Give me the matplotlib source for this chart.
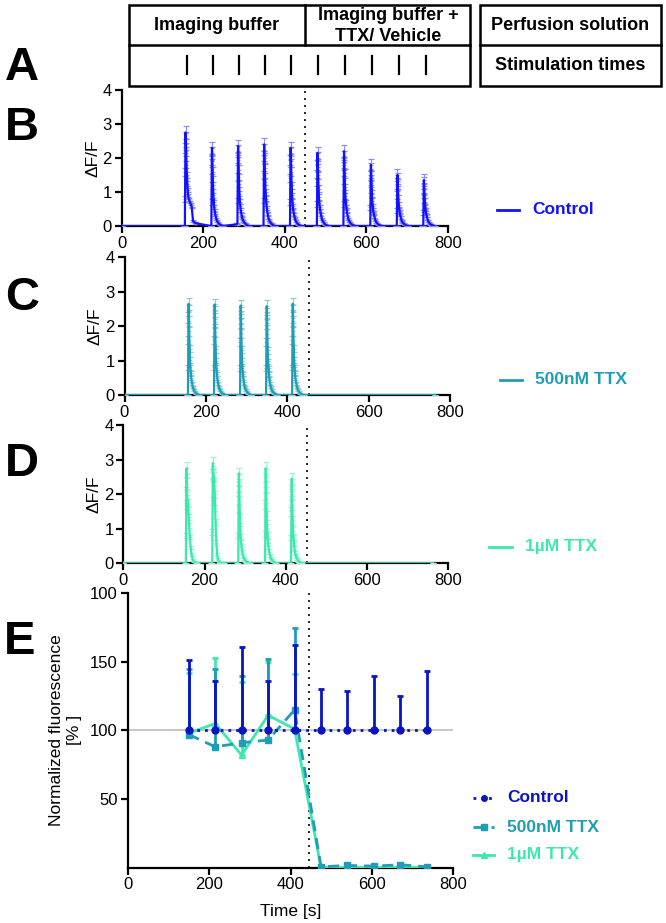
import matplotlib
matplotlib.use('Agg')
import matplotlib.pyplot as plt
from matplotlib.lines import Line2D
from matplotlib.patches import Rectangle
from matplotlib.transforms import blended_transform_factory
from matplotlib import font_manager

plt.rcParams['font.family'] = ['Liberation Sans', 'DejaVu Sans']
_names = {f.name for f in font_manager.fontManager.ttflist}
narrow = 'Liberation Sans Narrow' in _names

# ---------------- data ----------------
stim_times = [160, 224, 288, 352, 416, 482, 548, 614, 680, 746]
switch_time = 450
trace_end = 762

# sample offsets (s) relative to each stimulus onset
offsets = [-2, 0, 0.4, 0.8, 1.2, 1.6, 2.0, 2.5, 3, 4, 5, 6, 7, 8, 10, 12, 14, 17, 20, 24, 28]

ctrl_onsets = [155, 220, 284, 348, 413, 479, 544, 610, 675, 740]
ctrl_peaks = [
    [0, 0, 0.8, 1.6, 2.3, 2.75, 2.6, 2.4, 2.2, 1.8, 1.5, 1.25, 1.05, 0.9, 0.78, 0.72, 0.65, 0.55, 0.15, 0.1, 0.08],
    [0, 0, 0.7, 1.4, 1.95, 2.3, 2.15, 1.9, 1.6, 1.2, 0.9, 0.7, 0.55, 0.45, 0.32, 0.22, 0.15, 0.09, 0.05, 0.02, 0],
    [0.05, 0.08, 0.75, 1.45, 2.0, 2.35, 2.2, 1.95, 1.65, 1.25, 0.95, 0.72, 0.58, 0.47, 0.33, 0.23, 0.16, 0.1, 0.06, 0.02, 0],
    [0, 0, 0.75, 1.5, 2.05, 2.4, 2.25, 2.0, 1.7, 1.3, 1.0, 0.8, 0.65, 0.53, 0.37, 0.25, 0.17, 0.1, 0.06, 0.02, 0],
    [0, 0, 0.7, 1.4, 1.95, 2.3, 2.15, 1.9, 1.6, 1.2, 0.9, 0.72, 0.58, 0.46, 0.33, 0.23, 0.15, 0.09, 0.05, 0.02, 0],
    [0, 0, 0.65, 1.3, 1.8, 2.15, 2.0, 1.75, 1.5, 1.1, 0.85, 0.68, 0.56, 0.46, 0.33, 0.22, 0.15, 0.09, 0.05, 0.02, 0],
    [0, 0, 0.65, 1.35, 1.85, 2.2, 2.05, 1.8, 1.55, 1.15, 0.88, 0.7, 0.57, 0.47, 0.33, 0.22, 0.15, 0.09, 0.05, 0.02, 0],
    [0, 0, 0.55, 1.1, 1.5, 1.8, 1.68, 1.48, 1.27, 0.95, 0.74, 0.59, 0.48, 0.39, 0.28, 0.19, 0.13, 0.08, 0.04, 0.02, 0],
    [0, 0, 0.45, 0.9, 1.25, 1.5, 1.4, 1.23, 1.05, 0.8, 0.62, 0.5, 0.41, 0.33, 0.24, 0.16, 0.11, 0.07, 0.04, 0.01, 0],
    [0, 0, 0.4, 0.8, 1.12, 1.35, 1.26, 1.1, 0.95, 0.72, 0.57, 0.46, 0.38, 0.31, 0.22, 0.15, 0.1, 0.06, 0.03, 0.01, 0],
]
ctrl_sem = [0.01, 0.01, 0.08, 0.12, 0.15, 0.18, 0.17, 0.15, 0.13, 0.1, 0.08, 0.07, 0.06, 0.05, 0.04, 0.03, 0.03, 0.02, 0.02, 0.01, 0.01]

ttx500_onsets = [156, 220, 284, 348, 412]
ttx500_peaks = [
    [0, 0, 0.8, 1.6, 2.25, 2.65, 2.45, 2.15, 1.85, 1.35, 1.02, 0.8, 0.63, 0.5, 0.34, 0.23, 0.15, 0.09, 0.05, 0.02, 0],
    [0, 0, 0.8, 1.6, 2.22, 2.63, 2.43, 2.12, 1.82, 1.33, 1.0, 0.79, 0.62, 0.49, 0.34, 0.23, 0.15, 0.09, 0.05, 0.02, 0],
    [0, 0, 0.78, 1.55, 2.2, 2.6, 2.4, 2.1, 1.8, 1.32, 0.99, 0.78, 0.61, 0.49, 0.33, 0.22, 0.15, 0.09, 0.05, 0.02, 0],
    [0, 0, 0.78, 1.55, 2.18, 2.58, 2.38, 2.08, 1.78, 1.3, 0.98, 0.77, 0.6, 0.48, 0.33, 0.22, 0.14, 0.08, 0.05, 0.02, 0],
    [0, 0, 0.8, 1.6, 2.25, 2.65, 2.45, 2.15, 1.85, 1.35, 1.02, 0.8, 0.63, 0.5, 0.34, 0.23, 0.15, 0.09, 0.05, 0.02, 0],
]
ttx500_sem = [0.01, 0.01, 0.08, 0.12, 0.15, 0.17, 0.16, 0.15, 0.13, 0.1, 0.08, 0.07, 0.06, 0.05, 0.04, 0.03, 0.03, 0.02, 0.02, 0.01, 0.01]

ttx1_onsets = [154, 219, 283, 349, 413]
ttx1_peaks = [
    [0, 0, 0.8, 1.7, 2.35, 2.75, 2.3, 2.0, 1.9, 1.85, 1.75, 1.55, 1.35, 1.1, 0.75, 0.45, 0.25, 0.1, 0.05, 0.02, 0],
    [0, 0, 0.9, 1.8, 2.5, 2.9, 2.65, 2.6, 2.55, 2.5, 2.35, 2.0, 1.6, 1.2, 0.6, 0.25, 0.1, 0.05, 0.02, 0, 0],
    [0, 0, 0.8, 1.6, 2.2, 2.6, 2.4, 2.1, 1.8, 1.3, 0.97, 0.76, 0.6, 0.47, 0.32, 0.21, 0.14, 0.08, 0.04, 0.02, 0],
    [0, 0, 0.85, 1.7, 2.35, 2.75, 2.55, 2.2, 1.9, 1.38, 1.02, 0.8, 0.63, 0.5, 0.34, 0.23, 0.15, 0.09, 0.05, 0.02, 0],
    [0, 0, 0.75, 1.5, 2.1, 2.45, 2.27, 1.98, 1.7, 1.24, 0.94, 0.74, 0.58, 0.46, 0.31, 0.21, 0.14, 0.08, 0.04, 0.02, 0],
]
ttx1_sem = [0.01, 0.01, 0.08, 0.12, 0.15, 0.17, 0.17, 0.16, 0.15, 0.13, 0.11, 0.1, 0.09, 0.08, 0.06, 0.05, 0.04, 0.03, 0.02, 0.01, 0.01]

# panel E: normalized fluorescence per stimulation
e_times = [150, 215, 280, 345, 410, 475, 540, 605, 670, 735]
ctrl_norm = [100, 100, 100, 100, 100, 100, 100, 100, 100, 100]
ctrl_norm_sem = [51, 36, 61, 36, 62, 30, 29, 40, 25, 43]
ttx500_norm = [97, 88, 91, 93, 115, 0.5, 1.5, 1, 2, 0.5]
ttx500_norm_sem = [48, 57, 49, 59, 60, 1, 1.5, 1, 1.5, 0.5]
ttx1_norm = [98, 105, 82, 111, 101, 0, 0, 0, 0, 0]
ttx1_norm_sem = [44, 48, 53, 39, 40, 0.5, 0.5, 0.5, 0.5, 0.5]

trace_yticks = [0, 1, 2, 3, 4]
time_ticks = [0, 200, 400, 600, 800]
e_yticks = [50, 100, 150, 200]
e_yticklabels = ['50', '100', '150', '100']

c_ctrl = '#1212FF'
c_ctrl_light = '#8C8CFF'
c_500 = '#1E9DB6'
c_500_light = '#8ACBD8'
c_1 = '#3DE8AE'
c_1_light = '#9FF2D6'
c_ctrl_e = '#0A14C4'

# ---------------- figure ----------------
W, H = 666, 923
fig = plt.figure(figsize=(W / 100, H / 100), dpi=100)


def ax_px(l, t, r, b):
    return fig.add_axes([l / W, 1 - b / H, (r - l) / W, (b - t) / H])


def style_axis(ax):
    for s in ['top', 'right']:
        ax.spines[s].set_visible(False)
    for s in ['left', 'bottom']:
        ax.spines[s].set_linewidth(1.6)
    ax.tick_params(direction='out', length=5, width=1.6, labelsize=12, pad=2)


def build_trace(onsets, peaks, sem):
    t, y, e = [0.0], [0.0], [0.0]
    for on, vals in zip(onsets, peaks):
        for o, v, s in zip(offsets, vals, sem):
            t.append(on + o)
            y.append(v)
            e.append(s)
    t.append(trace_end)
    y.append(0.0)
    e.append(0.0)
    return t, y, e


panels = [
    (ax_px(121.7, 90, 447.7, 226), ctrl_onsets, ctrl_peaks, ctrl_sem, c_ctrl, c_ctrl_light, 451),
    (ax_px(124.5, 257.3, 450, 395), ttx500_onsets, ttx500_peaks, ttx500_sem, c_500, c_500_light, 453),
    (ax_px(123.3, 425, 448.3, 563.3), ttx1_onsets, ttx1_peaks, ttx1_sem, c_1, c_1_light, 451),
]

for ax, ons, pks, sem, col, lcol, vline in panels:
    t, y, e = build_trace(ons, pks, sem)
    ax.errorbar(t, y, yerr=e, fmt='-', color=col, lw=1.6, ecolor=lcol,
                elinewidth=0.8, capsize=2.5, capthick=0.9, zorder=3)
    ax.plot(t, y, '+', color=lcol, ms=3.5, mew=0.7, zorder=3)
    ax.set_xlim(0, 800)
    ax.set_ylim(0, 4)
    ax.set_xticks(time_ticks)
    ax.set_yticks(trace_yticks)
    ax.axvline(vline, color='#222222', lw=1.4, ls=(0, (1, 2.6)), zorder=2)
    style_axis(ax)
    ax.set_xlabel('Time [s]', fontsize=12.5)
    hpx = ax.get_position().height * H
    ax.xaxis.set_label_coords(0.5, -44 / hpx)
    ax.xaxis.label.set_va('center')
    ax.set_ylabel('\u0394F/F', fontsize=12.5)
    wpx = ax.get_position().width * W
    ax.yaxis.set_label_coords(-29 / wpx, 0.5)
    ax.yaxis.label.set_va('center')

axB = panels[0][0]

# ---------------- panel E ----------------
axE = ax_px(127.7, 593.3, 453.3, 867.5)
axE.axhline(100, color='#C8C8C8', lw=1.5, zorder=1)
axE.axvline(445, color='#222222', lw=1.4, ls=(0, (1, 2.6)), zorder=2)

z0 = [0] * len(e_times)
axE.errorbar(e_times, ttx500_norm, yerr=[z0, ttx500_norm_sem], fmt='s', ls=(0, (4, 2.5)),
             color=c_500, lw=2, ms=5, elinewidth=2, capsize=2.5, capthick=2, zorder=4)
axE.errorbar(e_times, ttx1_norm, yerr=[z0, ttx1_norm_sem], fmt='^', ls='-',
             color=c_1, lw=2, ms=4, elinewidth=2, capsize=2.5, capthick=2, zorder=3)
axE.errorbar(e_times, ctrl_norm, yerr=[z0, ctrl_norm_sem], fmt='o', ls=(0, (1, 1.8)),
             color=c_ctrl_e, lw=2, ms=5, elinewidth=2, capsize=2.5, capthick=2, zorder=5)
axE.set_xlim(0, 800)
axE.set_ylim(0, 200)
axE.set_xticks(time_ticks)
axE.set_yticks(e_yticks)
axE.set_yticklabels(e_yticklabels)
style_axis(axE)
axE.set_xlabel('Time [s]', fontsize=12.5)
axE.xaxis.set_label_coords(0.5, -44 / 274.2)
axE.xaxis.label.set_va('center')
axE.set_ylabel('Normalized fluorescence\n[% ]', fontsize=12.5, linespacing=1.3)
axE.yaxis.set_label_coords(-62 / 325.6, 0.5)
axE.yaxis.label.set_va('center')

# ---------------- panel A table ----------------
axT = fig.add_axes([0, 0, 1, 1])
axT.set_xlim(0, W)
axT.set_ylim(H, 0)
axT.axis('off')
axT.patch.set_alpha(0)
lw_box = 1.8
axT.add_patch(Rectangle((129, 5), 341, 81, fill=False, lw=lw_box, ec='black'))
axT.add_patch(Rectangle((480, 5), 181, 81, fill=False, lw=lw_box, ec='black'))
axT.plot([129, 470], [45, 45], color='black', lw=lw_box)
axT.plot([480, 661], [45, 45], color='black', lw=lw_box)
bt = blended_transform_factory(axB.transData, axT.transData)
axT.plot([switch_time, switch_time], [5, 45], color='black', lw=lw_box, transform=bt)
for st in stim_times:
    axT.plot([st, st], [56, 74], color='black', lw=1.6, transform=bt)

if narrow:
    tkw = dict(fontsize=14.5, fontweight='bold', ha='center', va='center',
               family=['Liberation Sans Narrow', 'Liberation Sans'])
else:
    tkw = dict(fontsize=13, fontweight='bold', ha='center', va='center')
axT.text(217, 26, 'Imaging buffer', **tkw)
axT.text(388, 26, 'Imaging buffer +\nTTX/ Vehicle', linespacing=1.25, **tkw)
axT.text(570, 26, 'Perfusion solution', **tkw)
axT.text(570, 66, 'Stimulation times', **tkw)

# panel letters
for letter, (x, y) in zip('ABCDE', [(22, 68), (22, 128), (22, 298), (22, 464), (20, 642)]):
    axT.text(x, y, letter, fontsize=34, fontweight='bold', ha='center', va='center')

# legends for traces
for (x0, x1, xt, y), lab, col in zip(
        [(497, 519, 532, 210), (500, 522, 535, 380), (489, 512, 525, 547)],
        ['Control', '500nM TTX', '1\u00b5M TTX'], [c_ctrl, c_500, c_1]):
    axT.plot([x0, x1], [y, y], color=col, lw=2)
    axT.text(xt, y, lab, color=col, fontsize=12.5, fontweight='bold', ha='left', va='center')

# legend for panel E
for (y, lab, col, mk, ls) in zip([798, 827, 855],
                                 ['Control', '500nM TTX', '1\u00b5M TTX'],
                                 [c_ctrl_e, c_500, c_1],
                                 ['o', 's', '^'],
                                 [(0, (1, 1.8)), (0, (4, 2.5)), '-']):
    axT.plot([473, 494], [y, y], color=col, lw=2, ls=ls)
    axT.plot([483.5], [y], marker=mk, color=col, ms=4)
    axT.text(507, y, lab, color=col, fontsize=12.5, fontweight='bold', ha='left', va='center')

fig.savefig('out.png', dpi=100)
